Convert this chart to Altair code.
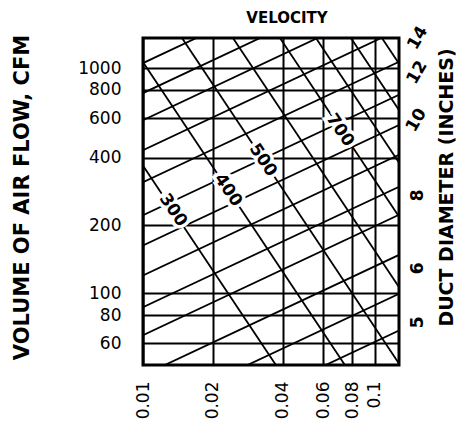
import altair as alt
import pandas as pd

# ---- axis ticks ----
x_ticks = [0.01, 0.02, 0.04, 0.06, 0.08, 0.1]
y_ticks = [60, 80, 100, 200, 400, 600, 800, 1000]
x_domain = [0.01, 0.127]
y_domain = [48, 1360]

# ---- duct-diameter lines (rising): CFM at friction 0.01 and at 0.127 ----
dia_f_left = 0.01
dia_f_right = 0.127
dia_q_left = [1052, 774, 587, 432, 311, 222, 163, 120, 86.6, 65.1, 43.2, 29.0, 19.9]
dia_q_right = [3608, 2655, 2013, 1482, 1067, 761, 559, 412, 297, 223, 148, 99.5, 68.3]

# ---- velocity lines (falling): friction at CFM 1360 and at CFM 48 ----
vel_values = [300, 400, 500, 600, 700, 800, 900, 1000]
vel_q_top = 1360
vel_q_bottom = 48
vel_f_top = [0.0043, 0.00853, 0.01473, 0.02443, 0.03895, 0.05568, 0.0788, 0.1072]
vel_f_bottom = [0.0374, 0.0742, 0.1282, 0.2126, 0.339, 0.4845, 0.686, 0.933]

# ---- velocity labels on the lines ----
vel_lab_text = ["300", "400", "500", "700"]
vel_lab_f = [0.01347, 0.02325, 0.0329, 0.0707]
vel_lab_q = [234, 287, 390, 530]

# ---- diameter labels at the right ----
dia_lab_text = ["14", "12", "10", "8", "6", "5"]
dia_lab_f = [0.153, 0.152, 0.151, 0.153, 0.153, 0.153]
dia_lab_q = [1359, 956, 587, 272, 129, 74.3]
dia_lab_angle = [300, 300, 300, 270, 270, 270]

rows = []
for i, (a, b) in enumerate(zip(dia_q_left, dia_q_right)):
    rows.append({"id": f"d{i}", "f": dia_f_left, "q": a})
    rows.append({"id": f"d{i}", "f": dia_f_right, "q": b})
for v, a, b in zip(vel_values, vel_f_top, vel_f_bottom):
    rows.append({"id": f"v{v}", "f": a, "q": vel_q_top})
    rows.append({"id": f"v{v}", "f": b, "q": vel_q_bottom})
lines_df = pd.DataFrame(rows)

vlab_df = pd.DataFrame({"t": vel_lab_text, "f": vel_lab_f, "q": vel_lab_q})
dlab_df = pd.DataFrame({"t": dia_lab_text, "f": dia_lab_f, "q": dia_lab_q, "a": dia_lab_angle})

FONT = "DejaVu Sans"

xscale = alt.Scale(type="log", domain=x_domain, nice=False)
yscale = alt.Scale(type="log", domain=y_domain, nice=False)

xaxis = alt.Axis(values=x_ticks, format=".2~f", labelAngle=270, labelFont=FONT,
                 labelFontSize=17, labelColor="black", labelPadding=16,
                 ticks=False, domain=False, grid=True, gridColor="black",
                 gridWidth=2, gridOpacity=1, title=None, labelFlush=False)
yaxis = alt.Axis(values=y_ticks, format="d", labelFont=FONT, labelFontSize=17,
                 labelColor="black", labelPadding=22, ticks=False, domain=False,
                 grid=True, gridColor="black", gridWidth=2, gridOpacity=1,
                 title="VOLUME OF AIR FLOW, CFM", titleFont=FONT, titleFontSize=21,
                 titleFontWeight="bold", titleColor="black", titleAngle=270,
                 titleX=-121, titleY=159, titleAlign="center",
                 titleBaseline="middle", labelFlush=False)

lines = alt.Chart(lines_df).mark_line(color="black", strokeWidth=1.8, clip=True).encode(
    x=alt.X("f:Q", scale=xscale, axis=xaxis),
    y=alt.Y("q:Q", scale=yscale, axis=yaxis),
    detail="id:N",
)

halo = alt.Chart(vlab_df).mark_text(
    font=FONT, fontSize=17, fontWeight="bold", angle=56, stroke="white",
    strokeWidth=7, color="white"
).encode(x=alt.X("f:Q", scale=xscale), y=alt.Y("q:Q", scale=yscale), text="t:N")

vtext = alt.Chart(vlab_df).mark_text(
    font=FONT, fontSize=17, fontWeight="bold", angle=56, color="black"
).encode(x=alt.X("f:Q", scale=xscale), y=alt.Y("q:Q", scale=yscale), text="t:N")

left_layer = alt.layer(lines, halo, vtext)

dtext = alt.Chart(dlab_df).mark_text(
    font=FONT, fontSize=17, fontWeight="bold", color="black"
).encode(
    x=alt.X("f:Q", scale=xscale),
    y=alt.Y("q:Q", scale=yscale,
            axis=alt.Axis(orient="right", labels=False, ticks=False, domain=False,
                          grid=False, title="DUCT DIAMETER (INCHES)", titleFont=FONT,
                          titleFontSize=19, titleFontWeight="bold", titleColor="black",
                          titleAngle=270, titleX=47, titleY=149, titleAlign="center",
                          titleBaseline="middle")),
    text="t:N",
    angle=alt.Angle("a:Q", scale=None),
)

chart = alt.layer(left_layer, dtext).resolve_scale(y="independent").properties(
    width=256, height=327,
    background="white",
    autosize=alt.AutoSizeParams(type="none"),
    padding={"left": 135, "top": 30, "right": 58, "bottom": 61},
    title=alt.TitleParams("VELOCITY", font=FONT, fontSize=15, fontWeight="bold",
                          color="black", dx=16, dy=9, offset=6, anchor="middle"),
).configure_view(stroke="black", strokeWidth=3)

chart.save("out.html", embed_options={"renderer": "svg", "actions": False})
